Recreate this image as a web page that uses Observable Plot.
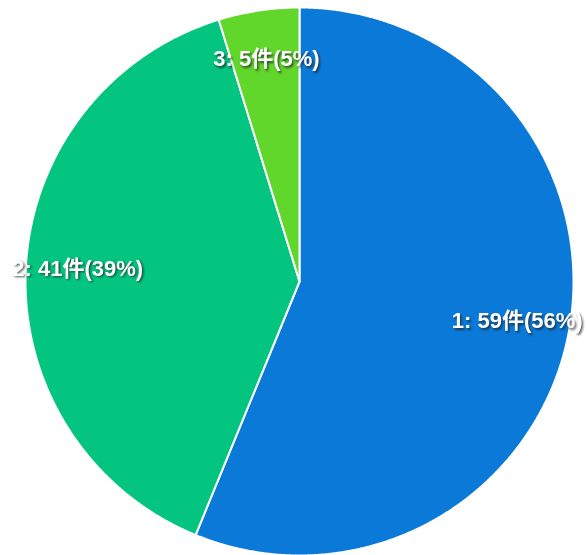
<!DOCTYPE html>
<html><head><meta charset="utf-8">
<script src="https://cdn.jsdelivr.net/npm/d3@7"></script>
<script src="https://cdn.jsdelivr.net/npm/@observablehq/plot@0.6"></script>
<style>body{margin:0;background:#fff}</style>
</head><body><div id="chart"></div>
<script>
const categories = ["1", "2", "3"];
const counts = [59, 41, 5];
const percents = [56, 39, 5];
const colors = ["#0a79d8", "#03c57f", "#61d62b"];

const W = 587, H = 555, cx = 299, cy = 281, R = 274, labelR = 0.81;
const rows = categories.map((c, i) => ({category: c, count: counts[i], percent: percents[i], color: colors[i]}));
const arcs = d3.pie().sort(null).value(d => d.count)(rows);

const slices = arcs.map(a => {
  const pts = [{x: 0, y: 0}];
  const n = Math.max(2, Math.ceil((a.endAngle - a.startAngle) / 0.005));
  for (let k = 0; k <= n; k++) {
    const t = a.startAngle + (a.endAngle - a.startAngle) * k / n;
    pts.push({x: Math.sin(t), y: Math.cos(t)});
  }
  return {color: a.data.color, pts};
});
const labels = arcs.map(a => {
  const m = (a.startAngle + a.endAngle) / 2;
  return {x: labelR * Math.sin(m), y: labelR * Math.cos(m),
          text: `${a.data.category}: ${a.data.count}件(${a.data.percent}%)`};
});

const font = "'Liberation Sans', Arial, 'Noto Sans CJK JP', sans-serif";
const chart = Plot.plot({
  width: W, height: H, margin: 0,
  x: {domain: [-cx / R, (W - cx) / R], axis: null},
  y: {domain: [-(H - cy) / R, cy / R], axis: null},
  marks: [
    ...slices.map(s => Plot.line(s.pts, {x: "x", y: "y", fill: s.color, stroke: "white", strokeWidth: 2, curve: "linear-closed", strokeLinejoin: "round"})),
    Plot.text(labels, {x: "x", y: "y", text: "text", fill: "#222", fillOpacity: 0.75, dx: 1.5, dy: -1.5, fontSize: 22, fontWeight: "bold", fontFamily: font, imageFilter: "blur(1px)"}),
    Plot.text(labels, {x: "x", y: "y", text: "text", fill: "white", dy: -3, fontSize: 22, fontWeight: "bold", fontFamily: font})
  ]
});
document.getElementById("chart").append(chart);
</script>
</body></html>
